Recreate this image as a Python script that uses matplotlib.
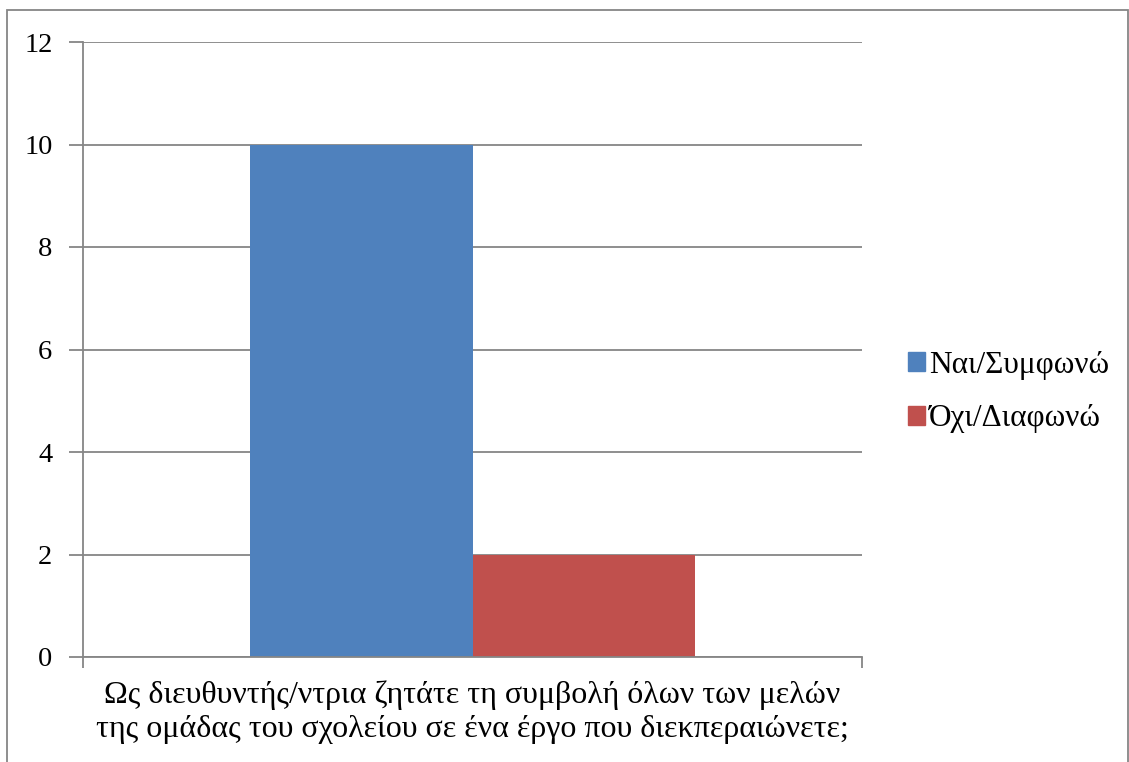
import matplotlib.pyplot as plt
from matplotlib.patches import Patch, Rectangle

plt.rcParams['font.family'] = ['Liberation Serif', 'DejaVu Serif']

series = ['Ναι/Συμφωνώ', 'Όχι/Διαφωνώ']
values = [10, 2]
colors = ['#4F81BD', '#C0504D']
category = 'Ως διευθυντής/ντρια ζητάτε τη συμβολή όλων των μελών\nτης ομάδας του σχολείου σε ένα έργο που διεκπεραιώνετε;'
yticks = [0, 2, 4, 6, 8, 10, 12]

fig = plt.figure(figsize=(11.29, 7.62), dpi=100)
ax = fig.add_axes([83/1129, 1 - 657/762, (862 - 83)/1129, (657 - 42)/762])

w = 0.286
offsets = [-w/2, w/2]
for s, v, c, o in zip(series, values, colors, offsets):
    ax.bar(o, v, width=w, color=c, label=s, zorder=3)

ax.set_xlim(-0.5, 0.5)
ax.set_ylim(0, 12)
ax.set_yticks(yticks)
ax.set_yticklabels([str(t) for t in yticks], fontsize=20.5)
ax.set_xticks([-0.5, 0.5])
ax.set_xticklabels(['', ''])
ax.tick_params(axis='y', length=10, width=1.3, color='#868686', pad=12)
ax.tick_params(axis='x', length=8, width=1.3, color='#868686')
ax.grid(axis='y', color='#868686', linewidth=1.3, zorder=0)
for side in ['top', 'right']:
    ax.spines[side].set_visible(False)
for side in ['left', 'bottom']:
    ax.spines[side].set_color('#868686')
    ax.spines[side].set_linewidth(1.3)
    ax.spines[side].set_zorder(4)

fig.text(472/1129, 1 - 712/762, category, ha='center', va='center',
         fontsize=23, linespacing=1.22)

handles = [Patch(color=c) for c in colors]
fig.legend(handles, series, loc='center left', bbox_to_anchor=(886/1129, 1 - 392/762),
           frameon=False, fontsize=22.5, handlelength=0.55, handleheight=0.55,
           handletextpad=0.12, labelspacing=0.78, borderpad=0.2)

fig.patches.append(Rectangle((7/1129, -0.05), (1128 - 7)/1129, 1.05 - 10/762,
                             transform=fig.transFigure, fill=False,
                             edgecolor='#868686', linewidth=1.3))

fig.savefig('out.png', dpi=100)
